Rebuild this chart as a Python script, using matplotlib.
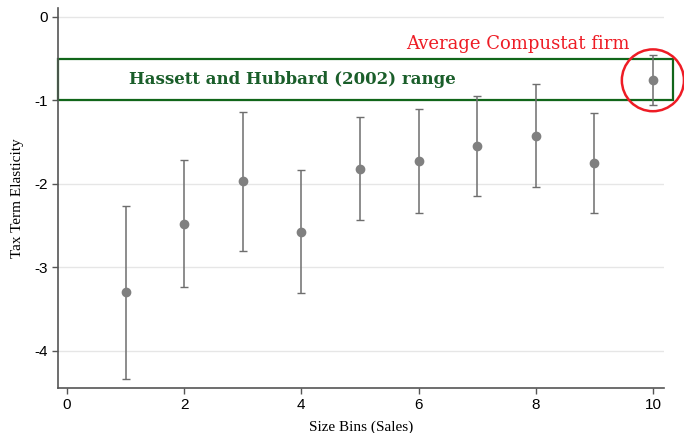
import matplotlib.pyplot as plt
from matplotlib.patches import Rectangle, Ellipse

bins = [1, 2, 3, 4, 5, 6, 7, 8, 9, 10]
elasticity = [-3.29, -2.48, -1.96, -2.57, -1.82, -1.73, -1.55, -1.43, -1.75, -0.76]
ci_upper = [-2.26, -1.71, -1.14, -1.83, -1.20, -1.10, -0.95, -0.81, -1.15, -0.46]
ci_lower = [-4.34, -3.23, -2.80, -3.31, -2.43, -2.35, -2.14, -2.04, -2.35, -1.05]

hh_range = (-1.0, -0.5)
x_ticks = [0, 2, 4, 6, 8, 10]
y_ticks = [0, -1, -2, -3, -4]

SERIF = ['Liberation Serif', 'DejaVu Serif']
SANS = ['Liberation Sans', 'DejaVu Sans']

if __name__ == '__main__':
    fig = plt.figure(figsize=(6.84, 4.33), dpi=100)
    ax = fig.add_axes([0.0848, 0.104, 0.886, 0.878])

    err_lo = [e - l for e, l in zip(elasticity, ci_lower)]
    err_hi = [u - e for e, u in zip(elasticity, ci_upper)]
    ax.errorbar(bins, elasticity, yerr=[err_lo, err_hi], fmt='o', color='#808080',
                ecolor='#6e6e6e', elinewidth=1.1, capsize=3, capthick=1.0,
                markersize=6, zorder=3)

    # Hassett and Hubbard range box
    box = Rectangle((-0.15, hh_range[0]), 10.5, hh_range[1] - hh_range[0],
                    fill=False, edgecolor='#11661a', linewidth=1.6, clip_on=False, zorder=2)
    ax.add_patch(box)
    ax.text(3.85, -0.745, 'Hassett and Hubbard (2002) range', color='#1a5e2a',
            fontsize=12, fontweight='bold', family=['DejaVu Serif'],
            ha='center', va='center')

    # average Compustat firm
    ax.add_patch(Ellipse((bins[-1], elasticity[-1]), 1.06, 0.74, fill=False,
                         edgecolor='#ee1c25', linewidth=1.8, clip_on=False, zorder=4))
    ax.text(7.69, -0.33, 'Average Compustat firm', color='#ee1c25', fontsize=13,
            family=['DejaVu Serif'], ha='center', va='center')

    ax.set_xlim(-0.154, 10.19)
    ax.set_ylim(-4.443, 0.108)
    ax.set_xticks(x_ticks)
    ax.set_yticks(y_ticks)
    ax.set_xticklabels([str(t) for t in x_ticks], family=SANS, fontsize=11)
    ax.set_yticklabels([str(t) for t in y_ticks], family=SANS, fontsize=11)
    ax.tick_params(direction='out', length=4, width=1, color='#555555', pad=3)

    ax.yaxis.grid(True, color='#e6e6e6', linewidth=1)
    ax.set_axisbelow(True)
    for s in ['top', 'right']:
        ax.spines[s].set_visible(False)
    for s in ['left', 'bottom']:
        ax.spines[s].set_color('#555555')
        ax.spines[s].set_linewidth(1.2)

    ax.set_xlabel('Size Bins (Sales)', family=SERIF, fontsize=11, labelpad=6)
    ax.set_ylabel('Tax Term Elasticity', family=SERIF, fontsize=11, labelpad=8)

    plt.savefig('out.png', dpi=100)
    plt.close()
